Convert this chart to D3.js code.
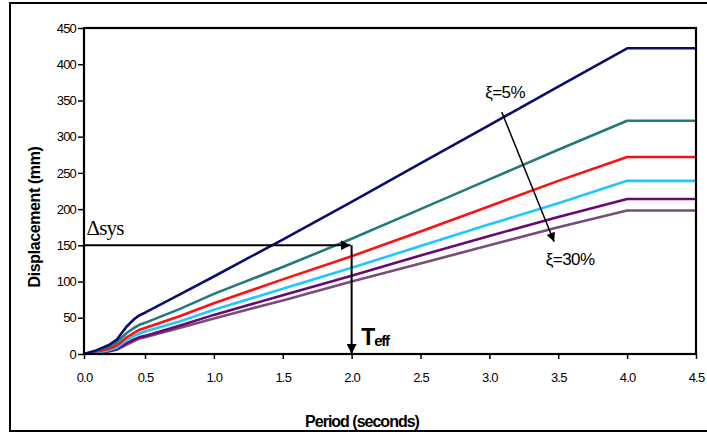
<!DOCTYPE html>
<html>
<head>
<meta charset="utf-8">
<script src="https://cdn.jsdelivr.net/npm/d3@7/dist/d3.min.js"></script>
<style>
  body { margin: 0; background: #fff; }
</style>
</head>
<body>
<div id="chart"></div>
<script>
// Period values (seconds) where each curve was read
const periods = [0, 0.1, 0.2, 0.27, 0.3, 0.35, 0.41, 0.45, 0.5, 0.75, 1.0, 1.5, 2.0, 2.5, 3.0, 3.5, 4.0, 4.5];

// Displacement spectra (mm), one per damping level
const xi5  = [0, 5, 12, 20, 27, 38, 48, 53, 57, 82, 107, 158, 210, 263, 316, 369, 422, 422];
const xi10 = [0, 4, 10, 16, 21, 29, 36, 40, 43, 62, 83, 120, 159, 200, 241, 282, 322, 322];
const xi15 = [0, 3, 7, 12, 16, 23, 29, 33, 36, 52, 70, 103, 135, 169, 204, 239, 272, 272];
const xi20 = [0, 2, 5, 9, 13, 19, 25, 28, 31, 45, 61, 90, 119, 149, 179, 208, 239, 239];
const xi25 = [0, 2, 4, 7, 10, 15, 20, 23, 25, 39, 54, 81, 108, 136, 163, 189, 214, 214];
const xi30 = [0, 1.5, 3.5, 6, 8.5, 13, 18, 21, 23, 36, 49, 74, 100, 125, 150, 175, 198, 198];

const seriesValues = [xi30, xi25, xi20, xi15, xi10, xi5];
const colors = ['#784c7c', '#660a70', '#1ec8ff', '#ff1010', '#237a7a', '#0c0c70'];

const xTicks = [0, 0.5, 1.0, 1.5, 2.0, 2.5, 3.0, 3.5, 4.0, 4.5];
const yTicks = [0, 50, 100, 150, 200, 250, 300, 350, 400, 450];

// design point
const deltaSys = 150;
const tEff = 2.0;

const sans = 'Arial, "Liberation Sans", sans-serif';
const serif = '"Liberation Serif", "Times New Roman", serif';

const W = 707, H = 435;
const margin = {top: 28, left: 84};
const width = 612, height = 326;

const svg = d3.select('#chart').append('svg')
  .attr('width', W).attr('height', H)
  .style('font-family', sans);

// outer frame
svg.append('rect')
  .attr('x', 10).attr('y', 3)
  .attr('width', 710).attr('height', 428)
  .attr('fill', 'none').attr('stroke', '#000').attr('stroke-width', 2);

const g = svg.append('g')
  .attr('transform', `translate(${margin.left},${margin.top})`);

// the first half-second is drawn a little narrower, as in the original
const x = d3.scaleLinear().domain([0, 0.5, 4.5]).range([0, 61, width]);
const y = d3.scaleLinear().domain([0, 450]).range([height, 0]);

// Y axis
const yAxis = g.append('g')
  .call(d3.axisLeft(y).tickValues(yTicks).tickSize(6).tickPadding(2));
yAxis.select('.domain').remove();
yAxis.selectAll('line').attr('stroke', '#000').attr('stroke-width', 1.5);
yAxis.selectAll('text')
  .attr('font-size', 13).attr('fill', '#000')
  .attr('font-family', sans)
  .attr('letter-spacing', -0.8);

// X axis
const xAxis = g.append('g')
  .attr('transform', `translate(0,${height})`)
  .call(d3.axisBottom(x).tickValues(xTicks).tickFormat(d3.format('.1f')).tickSize(5).tickPadding(14));
xAxis.select('.domain').remove();
xAxis.selectAll('line').attr('stroke', '#000').attr('stroke-width', 1.5);
xAxis.selectAll('text')
  .attr('font-size', 13).attr('fill', '#000')
  .attr('font-family', sans)
  .attr('letter-spacing', -0.8);

// curves
const line = d3.line()
  .x((d, i) => x(periods[i]))
  .y(d => y(d));

g.selectAll('.curve')
  .data(seriesValues)
  .enter()
  .append('path')
  .attr('class', 'curve')
  .attr('d', d => line(d))
  .attr('fill', 'none')
  .attr('stroke', (d, i) => colors[i])
  .attr('stroke-width', 2.6)
  .attr('stroke-linejoin', 'round');

// plot frame
g.append('rect')
  .attr('x', 0).attr('y', 0)
  .attr('width', width).attr('height', height)
  .attr('fill', 'none').attr('stroke', '#000').attr('stroke-width', 2.2);

// arrow markers
const defs = svg.append('defs');
defs.append('marker')
  .attr('id', 'head')
  .attr('viewBox', '0 0 10 10')
  .attr('refX', 10).attr('refY', 5)
  .attr('markerWidth', 5).attr('markerHeight', 5)
  .attr('markerUnits', 'strokeWidth')
  .attr('orient', 'auto')
  .append('path').attr('d', 'M0,0 L10,5 L0,10 Z').attr('fill', '#000');
defs.append('marker')
  .attr('id', 'headThin')
  .attr('viewBox', '0 0 10 10')
  .attr('refX', 10).attr('refY', 5)
  .attr('markerWidth', 7).attr('markerHeight', 6)
  .attr('markerUnits', 'strokeWidth')
  .attr('orient', 'auto')
  .append('path').attr('d', 'M0,0 L10,5 L0,10 Z').attr('fill', '#000');

// Δsys -> Teff arrows
g.append('line')
  .attr('x1', x(0)).attr('y1', y(deltaSys))
  .attr('x2', x(tEff) - 1).attr('y2', y(deltaSys))
  .attr('stroke', '#000').attr('stroke-width', 2)
  .attr('marker-end', 'url(#head)');
g.append('line')
  .attr('x1', x(tEff)).attr('y1', y(deltaSys))
  .attr('x2', x(tEff)).attr('y2', y(0))
  .attr('stroke', '#000').attr('stroke-width', 2)
  .attr('marker-end', 'url(#head)');

// damping trend arrow
g.append('line')
  .attr('x1', x(3.09)).attr('y1', y(334))
  .attr('x2', x(3.47)).attr('y2', y(155))
  .attr('stroke', '#000').attr('stroke-width', 1.5)
  .attr('marker-end', 'url(#headThin)');

// annotation text
g.append('text')
  .attr('x', x(0.02)).attr('y', y(164))
  .style('font-family', serif)
  .attr('font-size', 21).attr('letter-spacing', -0.8)
  .text('Δsys');

const teff = g.append('text')
  .attr('x', x(2.07)).attr('y', y(13))
  .attr('font-weight', 'bold');
teff.append('tspan').attr('font-size', 23).attr('letter-spacing', -1).text('T');
teff.append('tspan').attr('font-size', 15).attr('letter-spacing', -1.3).attr('dy', 1).text('eff');

g.append('text')
  .attr('x', x(2.97)).attr('y', y(353))
  .attr('font-size', 17).attr('letter-spacing', -0.6)
  .text('ξ=5%');
g.append('text')
  .attr('x', x(3.41)).attr('y', y(123))
  .attr('font-size', 17).attr('letter-spacing', -0.6)
  .text('ξ=30%');

// axis titles
svg.append('text')
  .attr('transform', `translate(40,${margin.top + height / 2 + 26}) rotate(-90)`)
  .attr('text-anchor', 'middle')
  .attr('font-size', 16).attr('font-weight', 'bold').attr('letter-spacing', -0.4)
  .text('Displacement (mm)');
svg.append('text')
  .attr('x', 362).attr('y', 427)
  .attr('text-anchor', 'middle')
  .attr('font-size', 16).attr('font-weight', 'bold').attr('letter-spacing', -1)
  .text('Period (seconds)');
</script>
</body>
</html>
